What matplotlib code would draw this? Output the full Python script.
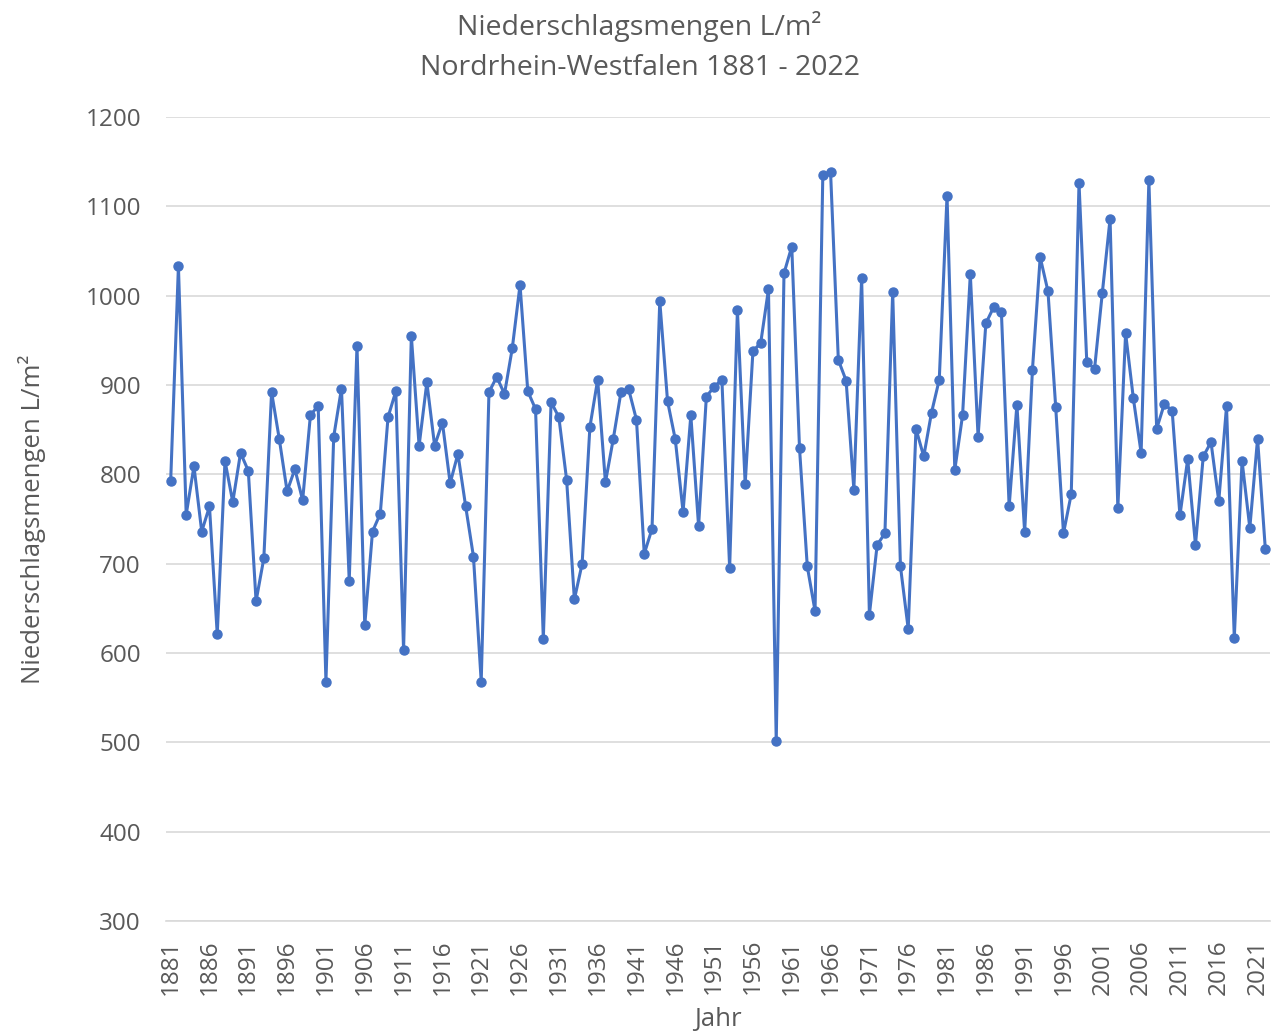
import numpy as np
import matplotlib.pyplot as plt

# Jahresniederschlag NRW
jahre = list(range(1881, 2023))
niederschlag = [
    792, 1033, 755, 809, 736, 764, 621, 815, 769, 824,   # 1881-1890
    804, 658, 706, 892, 839, 781, 806, 771, 866, 877,    # 1891-1900
    568, 842, 896, 681, 944, 631, 736, 756, 864, 893,    # 1901-1910
    603, 955, 832, 903, 832, 858, 790, 823, 764, 708,    # 1911-1920
    568, 892, 909, 890, 941, 1012, 893, 873, 616, 881,   # 1921-1930
    864, 794, 660, 700, 853, 906, 791, 839, 892, 895,    # 1931-1940
    861, 711, 739, 994, 882, 839, 758, 866, 742, 887,    # 1941-1950
    898, 906, 695, 984, 789, 938, 947, 1007, 501, 1025,  # 1951-1960
    1055, 829, 697, 647, 1135, 1138, 928, 905, 783, 1020,  # 1961-1970
    643, 721, 734, 1004, 697, 627, 851, 820, 869, 906,   # 1971-1980
    1112, 805, 866, 1024, 842, 969, 987, 982, 764, 878,  # 1981-1990
    735, 917, 1043, 1005, 875, 734, 778, 1126, 926, 918,  # 1991-2000
    1003, 1086, 762, 958, 885, 824, 1129, 851, 879, 871,  # 2001-2010
    754, 817, 721, 820, 836, 770, 876, 617, 815, 740,    # 2011-2020
    840, 716,                                            # 2021-2022
]
tick_jahre = list(range(1881, 2023, 5))
y_ticks = list(range(300, 1300, 100))

grau = '#595959'
blau = '#4472C4'

plt.rcParams['font.family'] = ['Open Sans', 'DejaVu Sans']

fig = plt.figure(figsize=(12.79, 10.32), dpi=100)
ax = fig.add_axes([166 / 1279, 1 - 921 / 1032, (1270 - 166) / 1279, (921 - 117) / 1032])

ax.plot(jahre, niederschlag, color=blau, linewidth=2.2, marker='o',
        markersize=6.5, markerfacecolor=blau, markeredgecolor=blau, zorder=3)

ax.set_xlim(1880.4, 2022.6)
ax.set_ylim(300, 1200)
ax.set_yticks(y_ticks)
ax.set_xticks(tick_jahre)
ax.set_xticklabels([str(j) for j in tick_jahre], rotation=90)

ax.grid(axis='y', color='#d9d9d9', linewidth=1.2)
ax.set_axisbelow(True)
for s in ['top', 'right', 'left']:
    ax.spines[s].set_visible(False)
ax.spines['bottom'].set_color('#d9d9d9')
ax.spines['bottom'].set_linewidth(1.2)
ax.tick_params(axis='both', length=0, colors=grau, labelsize=17.5)
ax.tick_params(axis='y', pad=18)
ax.tick_params(axis='x', pad=13)

ax.set_ylabel('Niederschlagsmengen L/m²', color=grau, fontsize=18.5, labelpad=28)
ax.set_xlabel('Jahr', color=grau, fontsize=18.5, labelpad=9)

fig.text(0.5, 1 - 27 / 1032, 'Niederschlagsmengen L/m²', ha='center', va='center',
         color=grau, fontsize=20.5)
fig.text(0.5, 1 - 68 / 1032, 'Nordrhein-Westfalen 1881 - 2022', ha='center', va='center',
         color=grau, fontsize=20.5)

fig.savefig('out.png', dpi=100)
